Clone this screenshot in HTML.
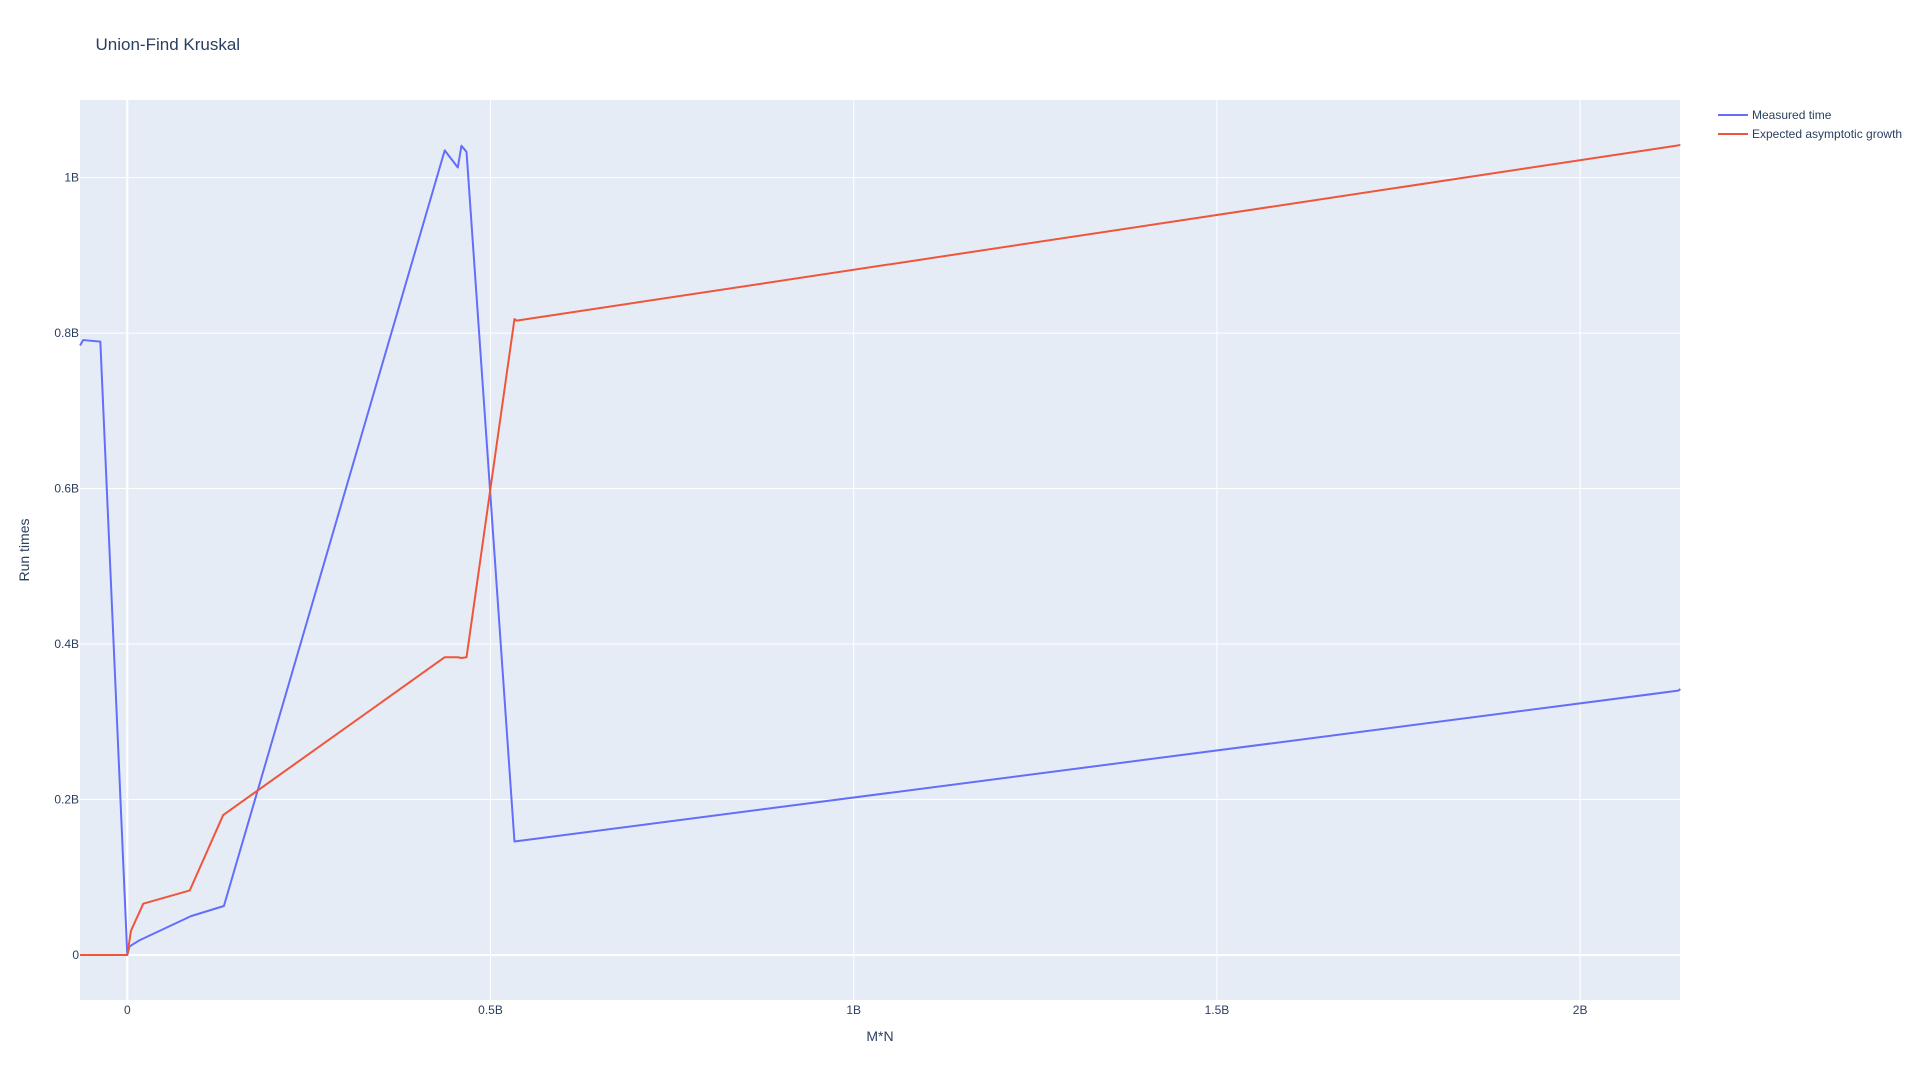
<!DOCTYPE html>
<html><head><meta charset="utf-8"><style>
body{margin:0;background:#fff;}
svg{display:block;font-family:"Liberation Sans",Arial,sans-serif;}
</style></head><body>
<svg id="chart" width="1920" height="1080">
<rect x="0" y="0" width="1920" height="1080" fill="#fff"/>
<rect x="80" y="100" width="1600" height="900" fill="#e5ecf6"/>
<g id="grid"></g>
<g id="ticks"></g>
<g id="lines"></g>
<text x="95.5" y="50" font-size="17" fill="#2a3f5f">Union-Find Kruskal</text>
<text x="880" y="1041" font-size="14" fill="#2a3f5f" text-anchor="middle">M*N</text>
<text x="29" y="550" font-size="14" fill="#2a3f5f" text-anchor="middle" transform="rotate(-90 29 550)">Run times</text>
<g>
<g>
<line x1="1718" y1="115" x2="1748" y2="115" stroke="#636efa" stroke-width="2"/>
<text x="1752" y="119" font-size="12" fill="#2a3f5f">Measured time</text>
</g>
<g>
<line x1="1718" y1="134" x2="1748" y2="134" stroke="#ef553b" stroke-width="2"/>
<text x="1752" y="138" font-size="12" fill="#2a3f5f">Expected asymptotic growth</text>
</g>
</g>
</svg>
<script>
// values in billions
const measuredX = [-0.065,-0.0607,-0.0371,0,0.003,0.0169,0.0877,0.133,0.437,0.455,0.460,0.467,0.533,2.135,2.138];
const measuredY = [0.784,0.791,0.789,0,0.011,0.019,0.050,0.063,1.035,1.013,1.041,1.033,0.146,0.340,0.342];
const expectedX = [-0.065,-0.0607,-0.0371,0,0.005,0.022,0.086,0.132,0.437,0.455,0.460,0.467,0.533,0.536,2.132,2.138];
const expectedY = [0,0,0,0,0.031,0.066,0.083,0.180,0.383,0.383,0.382,0.383,0.818,0.816,1.041,1.042];
const xTicks = [0,0.5,1,1.5,2];
const xTickLabels = ["0","0.5B","1B","1.5B","2B"];
const yTicks = [0,0.2,0.4,0.6,0.8,1];
const yTickLabels = ["0","0.2B","0.4B","0.6B","0.8B","1B"];

const X0=80,X1=1680,Y0=100,Y1=1000;
const xMin=-0.0651,xMax=2.1375,yMin=-0.0579,yMax=1.0998;
const sx=v=>X0+(v-xMin)/(xMax-xMin)*(X1-X0);
const sy=v=>Y1-(v-yMin)/(yMax-yMin)*(Y1-Y0);
const NS="http://www.w3.org/2000/svg";
const grid=document.getElementById('grid'),ticks=document.getElementById('ticks'),lines=document.getElementById('lines');
function mk(tag,attrs,parent){const e=document.createElementNS(NS,tag);for(const k in attrs)e.setAttribute(k,attrs[k]);parent.appendChild(e);return e;}
xTicks.forEach((t,i)=>{
  const x=sx(t);
  const g=mk('line',{x1:x,x2:x,y1:Y0,y2:Y1,stroke:'#fff','stroke-width':t===0?2:1},grid);
  
  
  const tx=mk('text',{x:x,y:1014,'font-size':12,fill:'#2a3f5f','text-anchor':'middle'},ticks);
  tx.textContent=xTickLabels[i];
  
  
});
yTicks.forEach((t,i)=>{
  const y=sy(t);
  const g=mk('line',{x1:X0,x2:X1,y1:y,y2:y,stroke:'#fff','stroke-width':t===0?2:1},grid);
  
  
  const tx=mk('text',{x:79,y:y+4,'font-size':12,fill:'#2a3f5f','text-anchor':'end'},ticks);
  tx.textContent=yTickLabels[i];
  
  
});
function series(xs,ys,color,name){
  const d=xs.map((v,i)=>(i?'L':'M')+sx(v).toFixed(2)+','+sy(ys[i]).toFixed(2)).join(' ');
  const p=mk('path',{d:d,fill:'none',stroke:color,'stroke-width':2,'stroke-linejoin':'round'},lines);
  
  
}
series(measuredX,measuredY,'#636efa','measured-time-line');
series(expectedX,expectedY,'#ef553b','expected-growth-line');
</script>
</body></html>
